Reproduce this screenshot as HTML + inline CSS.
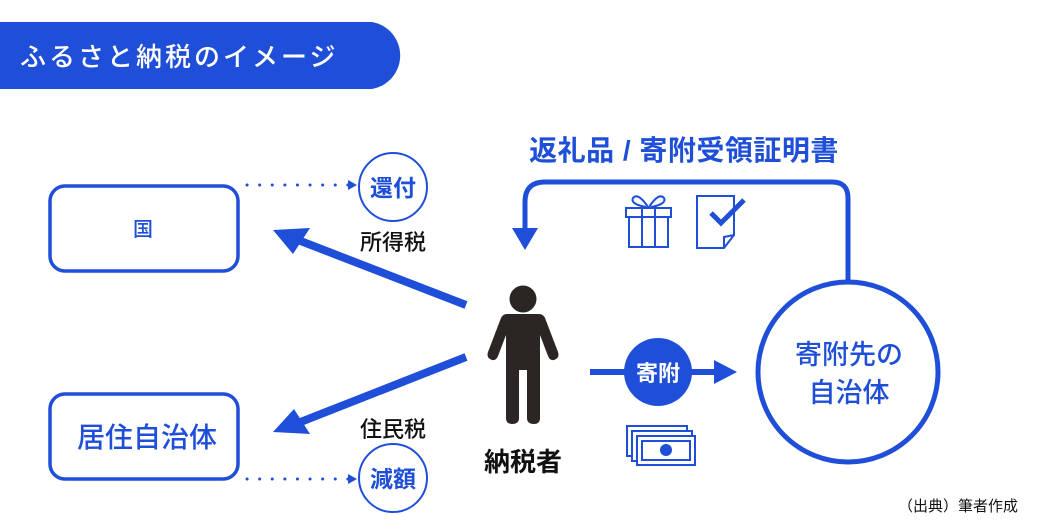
<!DOCTYPE html>
<html><head><meta charset="utf-8"><style>
body{margin:0;width:1052px;height:527px;background:#fff;overflow:hidden;}
svg text{font-family:"Liberation Sans","Noto Sans CJK JP",sans-serif;}
</style></head><body>
<svg width="1052" height="527" viewBox="0 0 1052 527" xmlns="http://www.w3.org/2000/svg">
<!-- header -->
<path d="M0,22 H372 A34,34 0 0 1 372,89 H0Z" fill="#1f4fd8"/>
<text x="20" y="66" font-size="26" fill="#fff" font-weight="500" letter-spacing="3">ふるさと納税のイメージ</text>
<!-- boxes -->
<rect x="50" y="186" width="188" height="85" rx="15" fill="none" stroke="#1f4fd8" stroke-width="3.5"/>
<text x="143" y="236" font-size="20" fill="#1f4fd8" text-anchor="middle" font-weight="500">国</text>
<rect x="50" y="394" width="188" height="85" rx="15" fill="none" stroke="#1f4fd8" stroke-width="3.5"/>
<text x="147" y="447" font-size="28" fill="#1f4fd8" text-anchor="middle" font-weight="500">居住自治体</text>
<!-- dotted -->
<line x1="247" y1="185" x2="350" y2="185" stroke="#1f4fd8" stroke-width="3" stroke-dasharray="0.1 12.5" stroke-linecap="round"/>
<path d="M348,180 L357,185 L348,190Z" fill="#1f4fd8"/>
<line x1="247" y1="479" x2="350" y2="479" stroke="#1f4fd8" stroke-width="3" stroke-dasharray="0.1 12.5" stroke-linecap="round"/>
<path d="M348,474 L357,479 L348,484Z" fill="#1f4fd8"/>
<circle cx="393" cy="187" r="34" fill="#fff" stroke="#1f4fd8" stroke-width="2"/>
<text x="393" y="196" font-size="23" fill="#1f4fd8" text-anchor="middle" font-weight="bold">還付</text>
<circle cx="393" cy="478" r="34" fill="#fff" stroke="#1f4fd8" stroke-width="2"/>
<text x="393" y="487" font-size="23" fill="#1f4fd8" text-anchor="middle" font-weight="bold">減額</text>
<!-- tax arrows -->
<line x1="466" y1="305" x2="298" y2="240" stroke="#1f4fd8" stroke-width="8"/>
<path d="M273,230 L310,228 L293,254Z" fill="#1f4fd8"/>
<line x1="466" y1="357" x2="298" y2="423" stroke="#1f4fd8" stroke-width="8"/>
<path d="M273,432 L294,409 L310,434Z" fill="#1f4fd8"/>
<text x="393" y="250" font-size="22" fill="#111" text-anchor="middle" font-weight="500">所得税</text>
<text x="393" y="437" font-size="22" fill="#111" text-anchor="middle" font-weight="500">住民税</text>
<!-- person -->
<g fill="#2b2523">
<circle cx="523" cy="299" r="13.5"/>
<path d="M507,314 H539 Q543,314 545,318 L558,352 Q560,358 554,360 Q550,361 548,356 L540,335 V418 Q540,424 534,424 Q527,424 527,418 V370 H519 V418 Q519,424 512,424 Q506,424 506,418 V335 L498,356 Q496,361 492,360 Q486,358 488,352 L501,318 Q503,314 507,314Z"/>
</g>
<text x="523" y="471" font-size="26" fill="#111" text-anchor="middle" font-weight="bold">納税者</text>
<!-- donation arrow -->
<line x1="590" y1="372" x2="718" y2="372" stroke="#1f4fd8" stroke-width="6"/>
<path d="M714,360 L737,372 L714,384Z" fill="#1f4fd8"/>
<circle cx="658" cy="372" r="34" fill="#1f4fd8"/>
<text x="658" y="381" font-size="22" fill="#fff" text-anchor="middle" font-weight="bold">寄附</text>
<!-- money -->
<g fill="#fff" stroke="#1f4fd8" stroke-width="2">
<rect x="627" y="426" width="60" height="30"/>
<rect x="632" y="431" width="60" height="30"/>
<rect x="637" y="436" width="58" height="29"/>
<rect x="642" y="441" width="48" height="19"/>
</g>
<circle cx="666" cy="450" r="6" fill="#1f4fd8"/>
<!-- big circle -->
<circle cx="848" cy="372" r="90" fill="#fff" stroke="#1f4fd8" stroke-width="5"/>
<text x="849" y="364" font-size="27" fill="#1f4fd8" text-anchor="middle" font-weight="500">寄附先の</text>
<text x="849" y="402" font-size="27" fill="#1f4fd8" text-anchor="middle" font-weight="500">自治体</text>
<!-- loop -->
<path d="M848,282 V198 Q848,182 832,182 H545 Q525,182 525,202 V232" fill="none" stroke="#1f4fd8" stroke-width="5"/>
<path d="M512,228 L538,228 L525,250Z" fill="#1f4fd8"/>
<text x="684" y="160" font-size="28" fill="#1f4fd8" text-anchor="middle" font-weight="bold" letter-spacing="0.5">返礼品 / 寄附受領証明書</text>
<!-- gift -->
<g fill="none" stroke="#1f4fd8" stroke-width="2">
<rect x="626" y="208" width="45" height="9"/>
<rect x="629" y="217" width="39" height="30"/>
<line x1="642" y1="208" x2="642" y2="247"/>
<line x1="655" y1="208" x2="655" y2="247"/>
<path d="M648,207 Q638,192 633,198 Q630,204 646,207"/>
<path d="M649,207 Q659,192 664,198 Q667,204 651,207"/>
</g>
<!-- doc -->
<g fill="none" stroke="#1f4fd8" stroke-width="2">
<path d="M697,196 H734 V235 L724,248 H697Z"/>
<path d="M734,235 L724,237 V248"/>
</g>
<path d="M711,213 L721,223 L744,200" fill="none" stroke="#1f4fd8" stroke-width="5"/>
<text x="958" y="511" font-size="15" fill="#111" text-anchor="middle">（出典）筆者作成</text>
</svg>
</body></html>
